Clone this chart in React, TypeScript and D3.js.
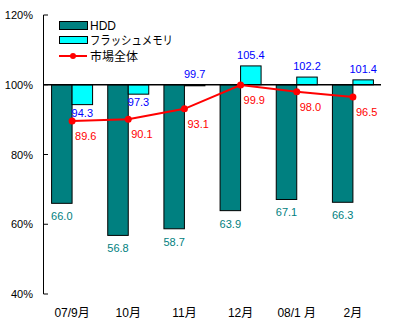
import React from "react";
import * as d3 from "d3";

const categories = ["07/9月", "10月", "11月", "12月", "08/1 月", "2月"];
const hddValues = [66.0, 56.8, 58.7, 63.9, 67.1, 66.3];
const flashValues = [94.3, 97.3, 99.7, 105.4, 102.2, 101.4];
const marketValues = [89.6, 90.1, 93.1, 99.9, 98.0, 96.5];
const yTicks = [40, 60, 80, 100, 120];
const seriesNames = ["HDD", "フラッシュメモリ", "市場全体"];

const W = 400;
const H = 327;
const FONT = "'Liberation Sans', 'Noto Sans CJK JP', sans-serif";
const TEAL = "#008080";
const CYAN = "#00FFFF";
const RED = "#FF0000";
const BLUE = "#0000FF";

export default function App() {
  const y = d3.scaleLinear().domain([40, 120]).range([294, 15]);
  const x = d3
    .scaleBand<string>()
    .domain(categories)
    .range([44, 381])
    .paddingInner(0.27)
    .paddingOuter(0.135);
  const bw = x.bandwidth() / 2;
  const cx = (c: string) => (x(c) as number) + x.bandwidth() / 2;
  const base = y(100);

  const line = d3
    .line<number>()
    .x((_, i) => cx(categories[i]))
    .y((d) => y(d));

  return (
    <svg
      width={W}
      height={H}
      style={{ position: "fixed", left: 0, top: 0, background: "#fff" }}
      fontFamily={FONT}
    >
      <rect x={0} y={0} width={W} height={H} fill="#fff" />
      {/* y axis */}
      <line x1={43.5} x2={43.5} y1={y(120)} y2={y(40)} stroke="#000" strokeWidth={1} />
      {yTicks.map((t) => (
        <g key={t}>
          <line x1={43.5} x2={48} y1={y(t)} y2={y(t)} stroke="#000" strokeWidth={1} />
          <text x={33} y={y(t) + 4} textAnchor="end" fontSize={11} fill="#000">
            {t}%
          </text>
        </g>
      ))}
      {/* bars */}
      {categories.map((c, i) => {
        const x0 = x(c) as number;
        const h = hddValues[i];
        const f = flashValues[i];
        return (
          <g key={c}>
            <rect
              x={x0}
              y={Math.min(y(h), base)}
              width={bw}
              height={Math.abs(y(h) - base)}
              fill={TEAL}
              stroke="#000"
              strokeWidth={1}
            />
            <rect
              x={x0 + bw}
              y={Math.min(y(f), base)}
              width={bw}
              height={Math.abs(y(f) - base)}
              fill={CYAN}
              stroke="#000"
              strokeWidth={1}
            />
          </g>
        );
      })}
      {/* baseline at 100% */}
      <line x1={43.5} x2={381} y1={base} y2={base} stroke="#000" strokeWidth={1.5} />
      {/* bar labels */}
      {categories.map((c, i) => {
        const x0 = x(c) as number;
        const h = hddValues[i];
        const f = flashValues[i];
        const fy = f >= 99.5 ? Math.min(y(f), base) - 7 : y(f) + 12;
        return (
          <g key={"l" + c}>
            <text x={x0 + bw / 2} y={y(h) + 17} textAnchor="middle" fontSize={11} fill={TEAL}>
              {h.toFixed(1)}
            </text>
            <text x={x0 + bw * 1.5} y={fy} textAnchor="middle" fontSize={11} fill={BLUE}>
              {f.toFixed(1)}
            </text>
          </g>
        );
      })}
      {/* market line */}
      <path d={line(marketValues) || ""} fill="none" stroke={RED} strokeWidth={2} />
      {marketValues.map((v, i) => (
        <g key={"m" + i}>
          <circle cx={cx(categories[i])} cy={y(v)} r={3.5} fill={RED} />
          <text x={cx(categories[i]) + 3} y={y(v) + 19} fontSize={11} fill={RED}>
            {v.toFixed(1)}
          </text>
        </g>
      ))}
      {/* category labels */}
      {categories.map((c) => (
        <text key={"c" + c} x={cx(c)} y={317} textAnchor="middle" fontSize={12} fill="#000">
          {c}
        </text>
      ))}
      {/* legend */}
      <g>
        <rect x={59.5} y={21.5} width={28} height={8} fill={TEAL} stroke="#000" strokeWidth={1} />
        <text x={90} y={30} fontSize={12} fill="#000">{seriesNames[0]}</text>
        <rect x={59.5} y={36.5} width={28} height={7} fill={CYAN} stroke="#000" strokeWidth={1} />
        <text x={90} y={45} fontSize={12} fill="#000" textLength={83} lengthAdjust="spacingAndGlyphs">
          {seriesNames[1]}
        </text>
        <line x1={59} x2={87} y1={56} y2={56} stroke={RED} strokeWidth={2} />
        <circle cx={73} cy={56} r={3} fill={RED} />
        <text x={90} y={60.5} fontSize={12} fill="#000">{seriesNames[2]}</text>
      </g>
    </svg>
  );
}
